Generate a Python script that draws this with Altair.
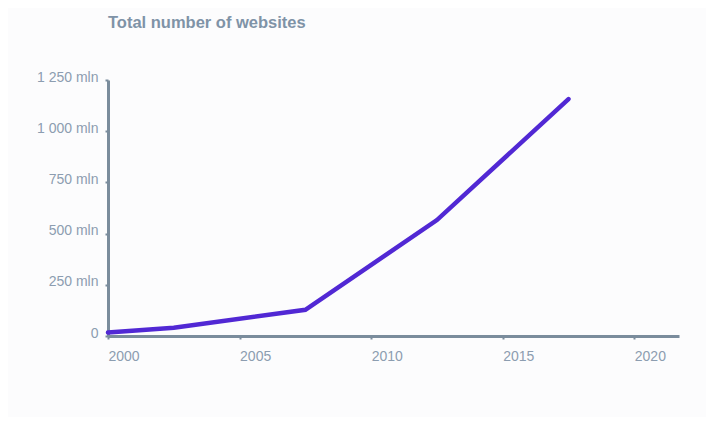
import altair as alt
import pandas as pd

years = [2000, 2002.5, 2007.5, 2012.5, 2017.5]
websites_mln = [17, 40, 128, 566, 1157]

x_ticks = [2000, 2005, 2010, 2015, 2020]
y_ticks = [0, 250, 500, 750, 1000, 1250]

df = pd.DataFrame({"year": years, "websites": websites_mln})

axis_color = "#7a8c9c"
label_color = "#8c9db0"

chart = alt.Chart(df).mark_line(
    color="#5128d4", strokeWidth=4.5, strokeCap="round", strokeJoin="miter"
).encode(
    x=alt.X(
        "year:Q",
        scale=alt.Scale(domain=[2000, 2021.7], nice=False, zero=False),
        axis=alt.Axis(
            values=x_ticks, format="d", title=None, grid=False,
            domainColor=axis_color, domainWidth=3,
            tickColor=axis_color, tickSize=3, tickWidth=2,
            labelColor=label_color, labelFontSize=14, labelFont="Liberation Sans",
            labelAlign="left", labelPadding=10, labelFlush=False,
        ),
    ),
    y=alt.Y(
        "websites:Q",
        scale=alt.Scale(domain=[0, 1250], nice=False),
        axis=alt.Axis(
            values=y_ticks, title=None, grid=False,
            labelExpr="datum.value == 0 ? '0' : replace(format(datum.value, ',d'), ',', ' ') + ' mln'",
            domainColor=axis_color, domainWidth=3,
            tickColor=axis_color, tickSize=3, tickWidth=2,
            labelColor=label_color, labelFontSize=14, labelFont="Liberation Sans",
            labelPadding=7, labelBaseline="middle", labelOffset=-3, labelFlush=False,
        ),
    ),
).properties(
    width=571,
    height=256,
    title=alt.TitleParams(
        "Total number of websites", anchor="start", frame="group", color="#7f93a7",
        fontSize=16.5, font="Liberation Sans", fontWeight="bold", offset=39,
    ),
    background="#fcfcfd",
    autosize=alt.AutoSizeParams(type="none"),
    padding={"left": 100, "top": 72, "right": 27, "bottom": 81},
).configure_view(stroke=None)

chart.save("out.html", embed_options={"renderer": "svg", "actions": False})
